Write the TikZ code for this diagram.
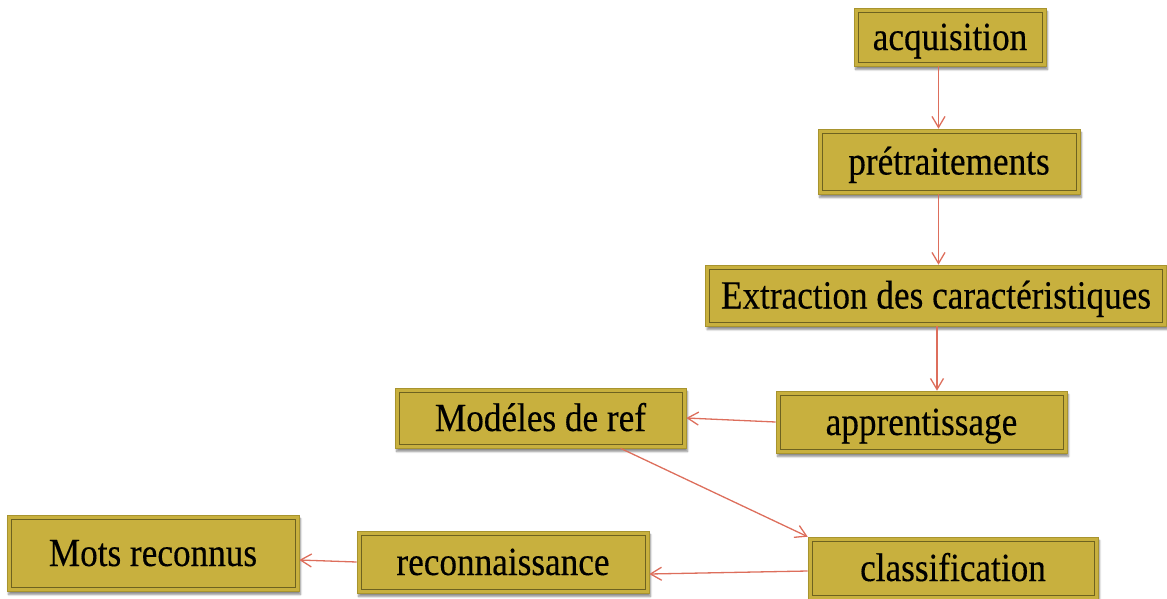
\documentclass[tikz,border=0pt]{standalone}
\usepackage{fontspec}
\setmainfont[FakeStretch=0.88,FakeBold=0.3]{Liberation Serif}
\usetikzlibrary{arrows.meta,shadows.blur}

\definecolor{boxgold}{HTML}{C8B03E}
\definecolor{boxedge}{HTML}{A8942E}
\definecolor{boxinner}{HTML}{6E6220}
\definecolor{flowred}{HTML}{DD6E5C}

\tikzset{
  stage/.style={
    rectangle, fill=boxgold, draw=boxedge, line width=0.6pt,
    inner sep=0pt, text=black, text height=27pt, text depth=1pt,
    font=\fontsize{40}{48}\selectfont,
    blur shadow={shadow xshift=1.5pt, shadow yshift=-3.5pt,
                 shadow blur steps=6, shadow opacity=45},
    path picture={
      \draw[boxinner, line width=0.7pt]
        ([shift={(4pt,4pt)}]path picture bounding box.south west)
        rectangle ([shift={(-4pt,-4pt)}]path picture bounding box.north east);
    }
  },
  flow/.style={draw=flowred, line width=1.3pt,
    -{Straight Barb[length=11pt,width=13pt,line width=1.3pt]}}
}

\begin{document}
\begin{tikzpicture}[x=1pt,y=-1pt]
  \useasboundingbox (0,0) rectangle (1167,598);

  % processing chain
  \node[stage, minimum width=192pt, minimum height=58pt] (acq) at (950,37)    {acquisition};
  \node[stage, minimum width=262pt, minimum height=65pt] (pre) at (949,161.5) {prétraitements};
  \node[stage, minimum width=461pt, minimum height=61pt] (ext) at (936,295.5) {Extraction des caractéristiques};
  \node[stage, minimum width=291pt, minimum height=62pt] (app) at (921.5,422) {apprentissage};
  \node[stage, minimum width=291pt, minimum height=60pt] (mod) at (540.5,418) {Modéles de ref};
  \node[stage, minimum width=290pt, minimum height=62pt] (cls) at (953,568)   {classification};
  \node[stage, minimum width=292pt, minimum height=62pt] (rec) at (503,562)   {reconnaissance};
  \node[stage, minimum width=292pt, minimum height=76pt] (mots) at (153,553)  {Mots reconnus};

  % vertical spine of the first stages
  \coordinate (spine) at (938.5,0);

  \draw[flow] (acq.south -| spine) -- (pre.north -| spine);
  \draw[flow] (pre.south -| spine) -- (ext.north -| spine);
  \draw[flow] ([xshift=1pt]ext.south) -- ([xshift=15.5pt]app.north);
  \draw[flow] (app.west) -- (mod.east);
  \draw[flow] ([xshift=80pt]mod.south) -- (cls.north west);
  \draw[flow] ([yshift=-3pt]cls.west) -- ([yshift=-12pt]rec.east);
  \draw[flow] (rec.west) -- ([yshift=-7pt]mots.east);
\end{tikzpicture}
\end{document}
